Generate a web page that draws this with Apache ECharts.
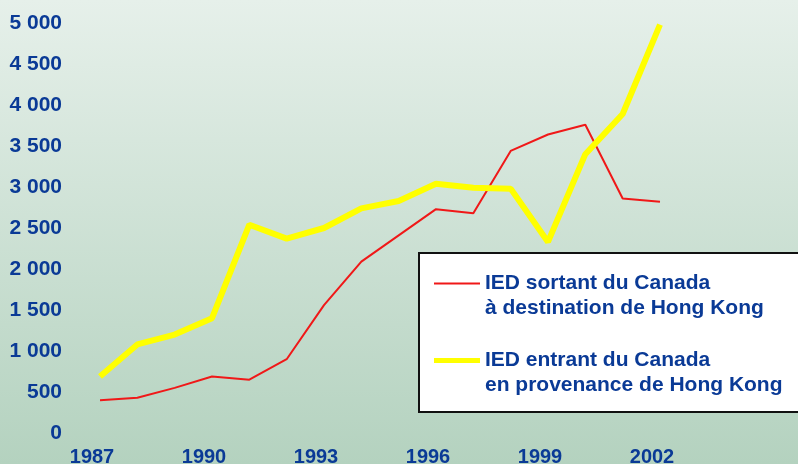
<!DOCTYPE html>
<html>
<head>
<meta charset="utf-8">
<script src="https://cdn.jsdelivr.net/npm/echarts@6/dist/echarts.min.js"></script>
<style>html,body{margin:0;padding:0;}#c{width:798px;height:464px;}</style>
</head>
<body>
<div id="c"></div>
<script>
const years = ['1987','1988','1989','1990','1991','1992','1993','1994','1995','1996','1997','1998','1999','2000','2001','2002'];
const sortant = [400, 430, 550, 690, 650, 900, 1560, 2090, 2410, 2730, 2680, 3440, 3640, 3760, 2860, 2820];
const entrant = [690, 1080, 1200, 1400, 2540, 2370, 2500, 2740, 2830, 3040, 2990, 2980, 2330, 3400, 3890, 4980];
const nameSortant = 'IED sortant du Canada\nà destination de Hong Kong';
const nameEntrant = 'IED entrant du Canada\nen provenance de Hong Kong';

const chart = echarts.init(document.getElementById('c'));
const font = 'Liberation Sans, Arial, sans-serif';
chart.setOption({
  animation: false,
  backgroundColor: new echarts.graphic.LinearGradient(0, 0, 0, 1, [
    {offset: 0, color: '#e6f0ea'},
    {offset: 1, color: '#b4d2bf'}
  ]),
  grid: {left: 100, right: 138, top: 23, bottom: 31, containLabel: false, outerBoundsMode: 'none'},
  xAxis: {
    type: 'category',
    data: years,
    boundaryGap: false,
    axisLine: {show: false},
    axisTick: {show: false},
    splitLine: {show: false},
    axisLabel: {
      interval: 2,
      margin: 14,
      color: '#0a3a96',
      fontFamily: font,
      fontWeight: 'bold',
      fontSize: 20,
      padding: [0, 16, 0, 0]
    }
  },
  yAxis: {
    type: 'value',
    min: 0,
    max: 5000,
    interval: 500,
    axisLine: {show: false},
    axisTick: {show: false},
    splitLine: {show: false},
    axisLabel: {
      margin: 38,
      fontFamily: font,
      fontWeight: 'bold',
      fontSize: 21,
      color: function (v) { return v === 0 ? '#00106e' : '#0a3a96'; },
      formatter: function (v) {
        return String(v).replace(/\B(?=(\d{3})+(?!\d))/g, ' ');
      }
    }
  },
  graphic: [{
    type: 'rect',
    left: 418,
    top: 252,
    shape: {width: 400, height: 159},
    style: {fill: '#ffffff', stroke: '#111111', lineWidth: 2},
    z: 50
  }],
  legend: {
    orient: 'vertical',
    left: 434,
    top: 246,
    padding: 0,
    itemGap: 2,
    itemWidth: 46,
    itemHeight: 14,
    z: 60,
    formatter: function (name) { return '\n' + name; },
    data: [
      {name: nameSortant, icon: 'path://M0,0h46v2h-46z'},
      {name: nameEntrant, icon: 'path://M0,0h46v5h-46z'}
    ],
    textStyle: {
      fontFamily: font,
      fontWeight: 'bold',
      fontSize: 21,
      lineHeight: 25,
      color: '#0a3a96'
    }
  },
  series: [
    {
      name: nameSortant,
      type: 'line',
      data: sortant,
      symbol: 'none',
      lineStyle: {color: '#f01818', width: 2},
      itemStyle: {color: '#f01818'},
      z: 2
    },
    {
      name: nameEntrant,
      type: 'line',
      data: entrant,
      symbol: 'none',
      lineStyle: {color: '#ffff00', width: 6},
      itemStyle: {color: '#ffff00'},
      z: 3
    }
  ]
});
</script>
</body>
</html>
